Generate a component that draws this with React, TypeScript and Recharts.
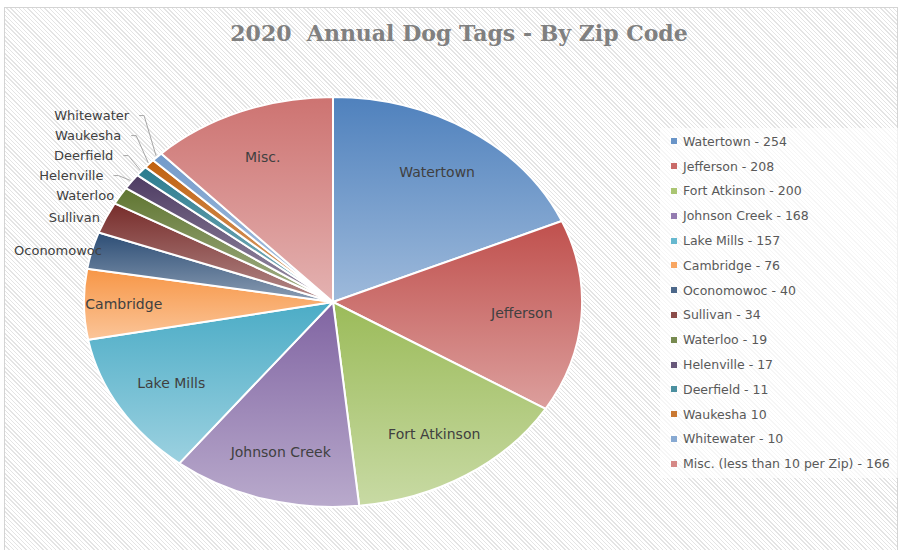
import React from "react";
import { PieChart, Pie, Cell, Legend } from "recharts";

// 2020 dog tags per zip code, clockwise from 12 o'clock
const zipNames = [
  "Watertown",
  "Jefferson",
  "Fort Atkinson",
  "Johnson Creek",
  "Lake Mills",
  "Cambridge",
  "Oconomowoc",
  "Sullivan",
  "Waterloo",
  "Helenville",
  "Deerfield",
  "Waukesha",
  "Whitewater",
  "Misc.",
];
const tagCounts = [254, 208, 200, 168, 157, 76, 40, 34, 19, 17, 11, 10, 10, 166];
const legendLabels = [
  "Watertown - 254",
  "Jefferson - 208",
  "Fort Atkinson - 200",
  "Johnson Creek - 168",
  "Lake Mills - 157",
  "Cambridge - 76",
  "Oconomowoc - 40",
  "Sullivan - 34",
  "Waterloo - 19",
  "Helenville - 17",
  "Deerfield - 11",
  "Waukesha 10",
  "Whitewater - 10",
  "Misc. (less than 10 per Zip) - 166",
];
const sliceColors = [
  "#4F81BD",
  "#C0504D",
  "#9BBB59",
  "#8064A2",
  "#4BACC6",
  "#F79646",
  "#2C4D75",
  "#772C2A",
  "#5F7530",
  "#4D3B62",
  "#2A7B8E",
  "#C0600E",
  "#729ACA",
  "#CD7371",
];

const data = zipNames.map((name, i) => ({ name, value: tagCounts[i] }));
const total = tagCounts.reduce((a, b) => a + b, 0);
const firstOuter = tagCounts.findIndex((v) => v / total < 0.04);

const STRETCH = 1.215; // the original pie is an oval
const RAD = Math.PI / 180;
const FONT = "'DejaVu Sans', Verdana, sans-serif";

function tint(hex: string, t: number) {
  const n = parseInt(hex.slice(1), 16);
  const mix = (c: number) => Math.round(c + (255 - c) * t);
  const r = mix((n >> 16) & 255);
  const g = mix((n >> 8) & 255);
  const b = mix(n & 255);
  return `rgb(${r},${g},${b})`;
}

function OvalSector(props: any) {
  const { cx, cy, outerRadius, startAngle, endAngle, fill } = props;
  const rx = outerRadius * STRETCH;
  const ry = outerRadius;
  const pt = (a: number) => [cx + rx * Math.cos(-a * RAD), cy + ry * Math.sin(-a * RAD)];
  const [x1, y1] = pt(startAngle);
  const [x2, y2] = pt(endAngle);
  const large = Math.abs(startAngle - endAngle) > 180 ? 1 : 0;
  const sweep = startAngle > endAngle ? 1 : 0;
  const d = `M${cx},${cy} L${x1},${y1} A${rx},${ry} 0 ${large} ${sweep} ${x2},${y2} Z`;
  return <path d={d} fill={fill} stroke="#ffffff" strokeWidth={2} strokeLinejoin="round" />;
}

let stackY = Infinity;

function renderLabel(p: any) {
  const { cx, cy, midAngle, outerRadius, percent, index, name } = p;
  const cos = Math.cos(-midAngle * RAD);
  const sin = Math.sin(-midAngle * RAD);

  if (percent >= 0.04) {
    const k = percent < 0.07 ? 0.84 : 0.76;
    return (
      <text
        x={cx + outerRadius * STRETCH * k * cos}
        y={cy + outerRadius * k * sin}
        textAnchor="middle"
        dominantBaseline="central"
        style={{ fontFamily: FONT, fontSize: 14, fill: "#404040" }}
      >
        {name}
      </text>
    );
  }

  // small slices: label outside, stacked upward so they don't collide
  if (index === firstOuter) stackY = Infinity;
  const ex = cx + outerRadius * STRETCH * cos;
  const ey = cy + outerRadius * sin;
  const y = Math.min(ey, stackY - 20);
  stackY = y;
  const moved = ey - y > 3;
  const tx = moved ? ex - 20 : ex + 2;
  return (
    <g>
      {moved && (
        <polyline
          points={`${tx + 2},${y} ${tx + 7},${y} ${ex - 1},${ey - 1}`}
          fill="none"
          stroke="#a6a6a6"
          strokeWidth={1}
        />
      )}
      <text
        x={index === firstOuter ? tx + 8 : tx - 8}
        y={y}
        textAnchor="end"
        dominantBaseline="central"
        style={{ fontFamily: FONT, fontSize: 13, fill: "#404040" }}
      >
        {name}
      </text>
    </g>
  );
}

function TagLegend() {
  return (
    <div
      style={{
        width: 238,
        height: 350,
        background: "rgba(255,255,255,0.65)",
        paddingTop: 1,
        boxSizing: "border-box",
        fontFamily: FONT,
        fontSize: 12.5,
        color: "#595959",
      }}
    >
      {legendLabels.map((t, i) => (
        <div
          key={t}
          style={{ display: "flex", alignItems: "center", height: 24.8, paddingLeft: 11, whiteSpace: "nowrap" }}
        >
          <span style={{ width: 6, height: 6, background: tint(sliceColors[i], 0.15), marginRight: 6 }} />
          <span>{t}</span>
        </div>
      ))}
    </div>
  );
}

export default function App() {
  return (
    <div style={{ position: "absolute", left: 0, top: 0, width: 901, height: 550, overflow: "hidden", background: "#fff" }}>
      <div
        style={{
          position: "absolute",
          left: 4,
          top: 7,
          width: 894,
          height: 560,
          boxSizing: "border-box",
          border: "1px solid #d4d4d4",
          background: "repeating-linear-gradient(45deg, #ffffff 0px, #ffffff 2px, #e4e4e4 2px, #e4e4e4 3px)",
        }}
      />
      <div
        style={{
          position: "absolute",
          left: 0,
          width: 918,
          top: 20,
          textAlign: "center",
          fontFamily: "'DejaVu Serif', serif",
          fontWeight: "bold",
          fontSize: 22,
          color: "#808080",
          whiteSpace: "pre",
        }}
      >
        {"2020  Annual Dog Tags - By Zip Code"}
      </div>
      <div style={{ position: "absolute", left: 0, top: 0 }}>
        <PieChart width={901} height={550} margin={{ top: 0, right: 0, bottom: 0, left: 0 }}>
          <defs>
            {sliceColors.map((c, i) => (
              <linearGradient key={i} id={`tagGrad${i}`} x1="0" y1="0" x2="0" y2="1">
                <stop offset="0%" stopColor={c} />
                <stop offset="100%" stopColor={tint(c, 0.45)} />
              </linearGradient>
            ))}
          </defs>
          <Pie
            data={data}
            dataKey="value"
            nameKey="name"
            cx={333}
            cy={302}
            outerRadius={205}
            startAngle={90}
            endAngle={-270}
            shape={OvalSector}
            label={renderLabel}
            labelLine={false}
            isAnimationActive={false}
          >
            {data.map((d, i) => (
              <Cell key={d.name} fill={`url(#tagGrad${i})`} />
            ))}
          </Pie>
          <Legend
            content={() => <TagLegend />}
            wrapperStyle={{ position: "absolute", left: 660, top: 128, width: 238, height: 350 }}
          />
        </PieChart>
      </div>
    </div>
  );
}
